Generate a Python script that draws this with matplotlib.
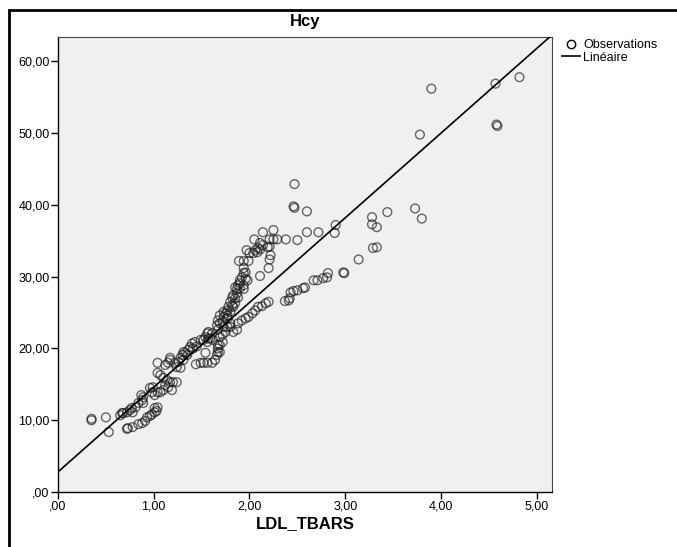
import matplotlib
matplotlib.use("Agg")
import matplotlib.pyplot as plt
import numpy as np
from matplotlib.lines import Line2D
from matplotlib.patches import Rectangle
from matplotlib.ticker import FuncFormatter

plt.rcParams['font.family'] = ['Liberation Sans', 'DejaVu Sans']

# Observations (LDL_TBARS, Hcy)
ldl_tbars = [
    0.35, 0.35, 0.50, 0.53, 0.67, 0.72, 0.73, 0.78, 0.84, 0.88, 0.91, 0.93, 0.96, 0.98, 1.01, 1.04, 1.03, 1.01,
    0.65, 0.68, 0.72, 0.75, 0.78, 0.77, 0.81, 0.84, 0.89, 0.88, 0.89, 0.87, 0.99, 0.96, 0.98, 1.01, 1.04, 1.07,
    1.10, 1.12, 1.15, 1.19, 1.10, 1.14, 1.17, 1.20, 1.24, 1.04, 1.07, 1.04, 1.12, 1.15, 1.17, 1.22, 1.24, 1.26,
    1.28, 1.31, 1.28, 1.30, 1.33, 1.36, 1.35, 1.17, 1.31, 1.44, 1.49, 1.52, 1.56, 1.61, 1.64, 1.66, 1.67, 1.67,
    1.54, 1.38, 1.41, 1.40, 1.43, 1.49, 1.45, 1.52, 1.56, 1.54, 1.57, 1.57, 1.61, 1.56, 1.59, 1.62, 1.69, 1.72,
    1.69, 1.67, 1.69, 1.66, 1.69, 1.73, 1.75, 1.72, 1.67, 1.69, 1.73, 1.77, 1.67, 1.72, 1.77, 1.80, 1.83, 1.87,
    1.80,
    1.73, 1.77, 1.77, 1.80, 1.75, 1.80, 1.82, 1.85, 1.78, 1.83, 1.83, 1.85, 1.87, 1.82, 1.88, 1.85, 1.88, 1.90,
    1.87, 1.94, 1.90, 1.94, 1.92, 1.96, 1.98, 1.90, 1.94, 1.96, 1.94, 1.89, 1.94, 1.99, 1.97, 2.00, 2.04, 2.08,
    2.11, 2.06, 2.09, 2.14, 2.19, 2.21, 2.05, 2.21, 2.25, 2.29, 2.38, 2.50, 2.14, 2.25, 2.22, 2.21, 2.20, 2.11,
    2.11,
    1.88, 1.92, 1.96, 1.99, 2.03, 2.06, 2.09, 2.13, 2.17, 2.20, 2.37, 2.41, 2.42, 2.43, 2.46, 2.50, 2.56, 2.58,
    2.67, 2.71, 2.77, 2.81, 2.82, 2.98, 2.99, 3.14, 3.29, 3.33, 3.28, 3.33, 3.28, 2.90, 2.89, 2.72, 2.60, 3.44,
    3.73, 3.80, 2.60, 2.46, 2.47, 2.47, 3.78, 3.90, 4.57, 4.82, 4.58, 4.59,
]
hcy = [
    10.2, 10.0, 10.4, 8.35, 11.0, 8.8, 8.9, 9.05, 9.45, 9.6, 9.9, 10.4, 10.6, 10.8, 11.7, 11.8, 11.3, 11.1,
    10.7, 11.0, 11.1, 11.4, 11.1, 11.7, 11.8, 12.4, 12.4, 12.8, 13.2, 13.5, 14.6, 14.5, 13.9, 13.5, 13.9, 13.9,
    14.2, 14.9, 14.6, 14.2, 15.9, 15.6, 15.3, 15.3, 15.3, 16.6, 16.3, 18.0, 17.7, 18.0, 18.4, 18.0, 17.4, 18.1,
    18.7, 18.4, 17.3, 19.1, 19.4, 19.8, 19.1, 18.7, 19.5, 17.8, 18.0, 18.0, 18.0, 18.0, 18.4, 19.1, 19.5, 20.5,
    19.4, 20.2, 20.0, 20.7, 20.9, 21.2, 20.3, 21.2, 20.9, 21.6, 21.4, 22.3, 22.1, 22.1, 21.4, 21.2, 21.6, 20.9,
    20.5, 20.0, 19.5, 23.2, 23.5, 23.0, 22.3, 21.9, 22.6, 24.6, 24.4, 24.2, 23.9, 23.7, 23.0, 23.5, 22.3, 22.6,
    23.0,
    25.1, 24.6, 25.3, 25.1, 24.9, 26.5, 26.0, 26.3, 25.8, 25.8, 27.4, 27.0, 27.7, 27.1, 27.1, 28.5, 28.8, 28.4,
    28.3, 28.3, 29.1, 28.8, 29.9, 29.7, 29.5, 29.5, 30.5, 30.6, 31.2, 32.2, 32.2, 32.2, 33.7, 33.3, 33.3, 33.4,
    33.8, 33.7, 34.0, 34.4, 34.1, 34.2, 35.2, 35.2, 35.2, 35.2, 35.2, 35.1, 36.2, 36.5, 33.0, 32.4, 31.2, 30.1,
    34.7,
    23.5, 23.9, 24.2, 24.4, 24.9, 25.3, 25.8, 25.9, 26.3, 26.5, 26.6, 26.7, 27.0, 27.8, 28.0, 28.1, 28.4, 28.5,
    29.5, 29.5, 29.8, 29.9, 30.5, 30.6, 30.5, 32.4, 34.0, 34.1, 37.3, 36.9, 38.3, 37.2, 36.1, 36.2, 36.2, 39.0,
    39.5, 38.1, 39.1, 39.8, 39.6, 42.9, 49.8, 56.2, 56.9, 57.8, 51.2, 51.0,
]

# Linear fit shown as "Linéaire"
fit_intercept = 2.8
fit_slope = 11.8

x_ticks = [0, 1, 2, 3, 4, 5]
y_ticks = [0, 10, 20, 30, 40, 50, 60]


def spss_fmt(v, pos=None):
    s = f"{v:.2f}".replace('.', ',')
    if s.startswith('0,'):
        s = s[1:]
    return s


fig = plt.figure(figsize=(6.77, 5.47), dpi=100)
ax = fig.add_axes([58 / 677, 1 - 492 / 547, (552 - 58) / 677, (492 - 37) / 547])
ax.set_facecolor('#F0F0F0')

ax.scatter(ldl_tbars, hcy, s=40, facecolors='none', edgecolors='#1a1a1a',
           linewidths=1.0, alpha=0.65, zorder=3)

xmin, xmax = 0, 5.16
ymin, ymax = 0, 63.4
xl = np.array([xmin, xmax])
ax.plot(xl, fit_intercept + fit_slope * xl, color='black', lw=1.2, zorder=4)

ax.set_xlim(xmin, xmax)
ax.set_ylim(ymin, ymax)
ax.set_xticks(x_ticks)
ax.set_yticks(y_ticks)
ax.xaxis.set_major_formatter(FuncFormatter(spss_fmt))
ax.yaxis.set_major_formatter(FuncFormatter(spss_fmt))
ax.tick_params(direction='out', length=5, width=1, labelsize=9, colors='black',
               top=False, right=False, pad=1)
for side in ['top', 'right']:
    ax.spines[side].set_color('#444444')
    ax.spines[side].set_linewidth(0.8)
for side in ['left', 'bottom']:
    ax.spines[side].set_color('black')
    ax.spines[side].set_linewidth(1.0)

ax.set_title('Hcy', fontsize=12, fontweight='bold', pad=8)
ax.set_xlabel('LDL_TBARS', fontsize=12, fontweight='bold', labelpad=3)

handles = [Line2D([], [], marker='o', ls='none', mfc='none', mec='black', ms=6),
           Line2D([], [], color='black', lw=1.2)]
fig.legend(handles, ['Observations', 'Linéaire'], loc='upper left',
           bbox_to_anchor=(562 / 677, 1 - 39 / 547), frameon=False, fontsize=9,
           handlelength=1.4, handletextpad=0.3, labelspacing=0.05, borderpad=0,
           borderaxespad=0)

# outer frame of the chart window
fig.patches.append(Rectangle((9 / 677, -0.1), 1.2, 1.1 - 10 / 547, transform=fig.transFigure,
                             fill=False, edgecolor='black', lw=2, zorder=0))

fig.savefig('out.png', dpi=100)
